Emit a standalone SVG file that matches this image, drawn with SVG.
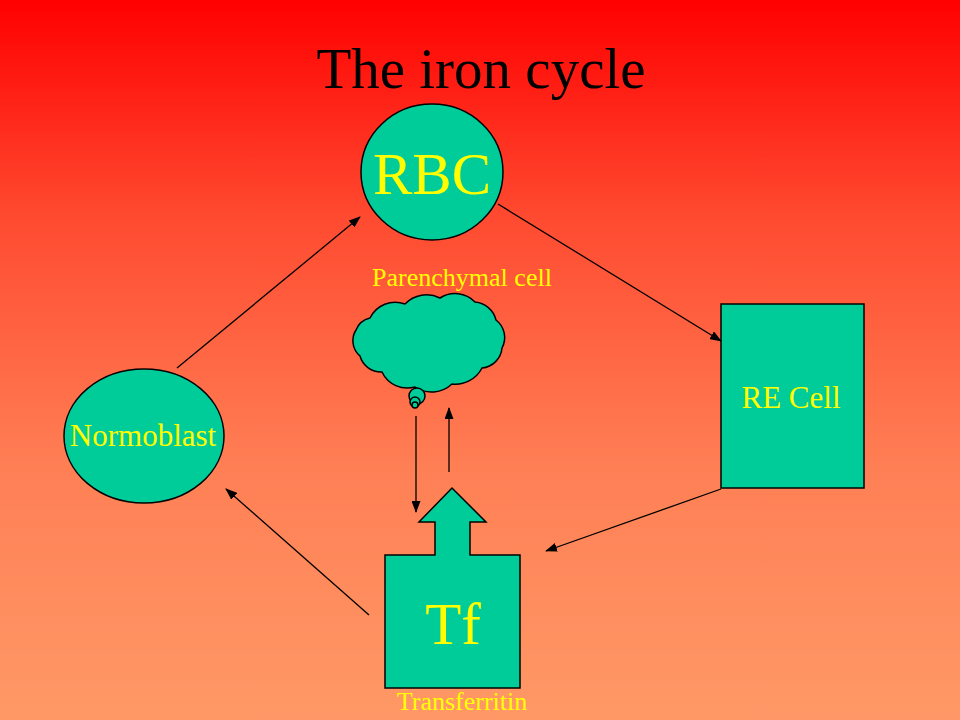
<svg xmlns="http://www.w3.org/2000/svg" width="960" height="720" viewBox="0 0 960 720">
<defs>
<linearGradient id="bg" x1="0" y1="0" x2="0" y2="1">
<stop offset="0" stop-color="#FF0000"/>
<stop offset="0.3" stop-color="#FF4A30"/>
<stop offset="0.65" stop-color="#FF7F55"/>
<stop offset="1" stop-color="#FF9966"/>
</linearGradient>
<marker id="ah" markerWidth="12" markerHeight="9" refX="11" refY="4.5" orient="auto" markerUnits="userSpaceOnUse">
<path d="M0,0 L12,4.5 L0,9 Z" fill="#000"/>
</marker>
<style>
.node{fill:#00CC99;stroke:#000;stroke-width:1.5}
.lbl{fill:#FFFF00;font-family:"Liberation Serif",serif;text-anchor:middle}
.conn line{stroke:#000;stroke-width:1.3;marker-end:url(#ah)}
</style>
</defs>
<rect width="960" height="720" fill="url(#bg)"/>
<text x="481" y="88" font-family="Liberation Serif,serif" font-size="57" text-anchor="middle" fill="#000">The iron cycle</text>
<g id="rbc">
<ellipse class="node" cx="432" cy="172" rx="71" ry="68"/>
<text class="lbl" x="432" y="194" font-size="59">RBC</text>
</g>
<g id="normoblast">
<ellipse class="node" cx="144" cy="436" rx="80" ry="67"/>
<text class="lbl" x="143" y="446" font-size="31">Normoblast</text>
</g>
<g id="recell">
<rect class="node" x="721" y="304" width="143" height="184"/>
<text class="lbl" x="791" y="408" font-size="31">RE Cell</text>
</g>
<g id="parenchymal">
<path class="node" d="M370,318 A28,28 0 0 1 405,304 A30,30 0 0 1 440,298 A28,28 0 0 1 475,302 A24,24 0 0 1 496,320 A22,22 0 0 1 502,348 A22,22 0 0 1 482,368 A30,30 0 0 1 452,384 A30,30 0 0 1 415,387 A28,28 0 0 1 382,372 A22,22 0 0 1 360,356 A20,20 0 0 1 356,330 A20,20 0 0 1 370,318 Z"/>
<circle class="node" cx="417" cy="396" r="8" stroke-width="1"/>
<circle class="node" cx="415" cy="402" r="5" stroke-width="1"/>
<circle class="node" cx="415" cy="405" r="3" stroke-width="1"/>
<text class="lbl" x="462" y="286" font-size="26">Parenchymal cell</text>
</g>
<g id="tf">
<path class="node" d="M385,555 L435,555 L435,522 L419,522 L452,488 L486,522 L470,522 L470,555 L520,555 L520,688 L385,688 Z"/>
<text class="lbl" x="453" y="644" font-size="59">Tf</text>
<text class="lbl" x="462" y="710" font-size="26">Transferritin</text>
</g>
<g id="connectors" class="conn">
<line x1="177" y1="368" x2="360" y2="217"/>
<line x1="498" y1="204" x2="721" y2="341"/>
<line x1="721" y1="489" x2="546" y2="551"/>
<line x1="369" y1="615" x2="226" y2="489"/>
<line x1="416" y1="416" x2="416" y2="512"/>
<line x1="449" y1="472" x2="449" y2="408"/>
</g>
</svg>
